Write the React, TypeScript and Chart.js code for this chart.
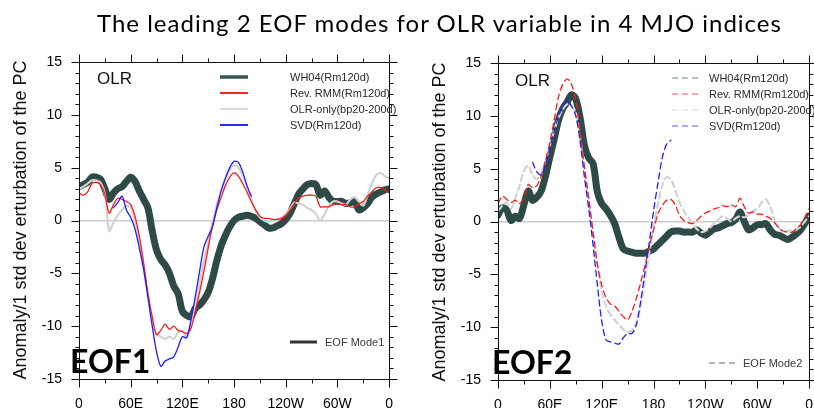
import React, { useEffect, useRef } from "react";
import { Chart, registerables } from "chart.js";

Chart.register(...registerables);

// ---------------- data ----------------
const LON = [
  0, 5, 10, 15, 20, 25, 30, 35, 40, 45, 50, 55, 60, 65, 70, 75, 80, 85, 90, 95,
  100, 105, 110, 115, 120, 125, 130, 135, 140, 145, 150, 155, 160, 165, 170, 175,
  180, 185, 190, 195, 200, 205, 210, 215, 220, 225, 230, 235, 240, 245, 250, 255,
  260, 265, 270, 275, 280, 285, 290, 295, 300, 305, 310, 315, 320, 325, 330, 335,
  340, 345, 350, 355, 360,
];

const X_TICK_LABELS = ["0", "60E", "120E", "180", "120W", "60W", "0"];
const SERIES_NAMES = ["WH04(Rm120d)", "Rev. RMM(Rm120d)", "OLR-only(bp20-200d)", "SVD(Rm120d)"];
const TITLE = "The leading 2 EOF modes for OLR variable in 4 MJO indices";
const Y_TITLE = "Anomaly/1 std dev erturbation of the PC";

// EOF1
const EOF1_WH04 = [
  3.2, 3.4, 3.6, 4.1, 4.1, 3.9, 3.0, 2.0, 2.6, 3.0, 3.2, 3.7, 4.1, 3.7, 2.8, 2.0,
  1.2, -1.0, -2.8, -3.7, -4.2, -5.0, -6.2, -6.9, -8.6, -9.0, -9.1, -8.3, -8.0, -7.5,
  -6.8, -5.5, -3.8, -2.4, -1.4, -0.6, 0.0, 0.3, 0.4, 0.5, 0.4, 0.2, -0.1, -0.4,
  -0.7, -0.7, -0.5, -0.3, 0.1, 0.7, 1.6, 2.5, 3.0, 3.4, 3.5, 3.4, 2.4, 2.8, 2.2,
  1.8, 1.8, 1.8, 1.6, 1.7, 1.8, 1.0, 1.2, 1.6, 2.2, 2.5, 2.7, 2.9, 3.0,
];
const EOF1_RMM = [
  2.6, 2.4, 2.7, 3.5, 3.6, 3.4, 2.5, 0.7, 1.5, 2.1, 2.0, 1.8, 1.5, 0.4, -1.5, -4.0,
  -6.9, -9.1, -10.8, -10.4, -9.8, -10.3, -10.0, -10.4, -10.5, -10.7, -10.2, -8.6,
  -6.8, -4.8, -2.6, -0.5, 1.0, 2.2, 3.3, 4.1, 4.5, 4.2, 3.5, 2.7, 1.8, 1.0, 0.4,
  0.2, 0.2, 0.1, 0.1, 0.2, 0.5, 1.0, 1.6, 2.1, 2.3, 2.4, 2.4, 2.3, 1.3, 1.3, 1.3,
  1.5, 1.6, 1.5, 1.5, 1.3, 1.3, 1.6, 1.8, 2.3, 2.7, 3.1, 3.1, 2.9, 2.6,
];
const EOF1_OLR = [
  3.0, 3.2, 3.5, 3.8, 3.8, 3.6, 2.5, -1.0, -0.2, 0.5, 1.0, 1.4, 1.2, 0.0, -1.8,
  -4.5, -7.2, -9.6, -10.8, -11.0, -11.2, -11.0, -11.2, -10.6, -10.5, -11.0, -9.8,
  -8.0, -6.0, -3.8, -2.0, -0.2, 1.5, 2.8, 4.0, 4.8, 5.2, 5.0, 4.3, 3.2, 2.0, 1.0,
  0.3, 0.0, -0.1, 0.0, 0.1, 0.3, 0.6, 1.1, 1.7, 1.6, 1.5, 1.2, 1.0, 0.6, 0.0, 0.6,
  1.4, 1.8, 1.8, 1.6, 1.5, 2.0, 2.2, 1.8, 1.4, 2.4, 3.5, 4.3, 4.5, 4.2, 4.0,
];
const EOF1_SVD = [
  null, null, null, null, null, null, null, null, 1.2, 1.7, 2.3, 1.0, 0.3, -0.8,
  -2.6, -4.6, -7.2, -10.0, -12.4, -13.8, -13.3, -13.1, -12.9, -12.0, -11.0, -11.1,
  -9.4, -7.2, -4.8, -2.5, -1.5, -0.6, 1.2, 2.8, 4.0, 5.0, 5.6, 5.5, 4.6, 3.3, 2.3,
  null, null, null, null, null, null, null, null, null, null, null, null, null,
  null, null, null, null, null, null, null, null, null, null, null, null, null,
  null, null, null, null, null, null,
];

// EOF2
const EOF2_WH04 = [
  0.6, 1.3, 1.1, 0.1, 0.5, 0.3, 1.6, 2.9, 2.0, 2.3, 2.9, 4.3, 6.1, 7.8, 9.6, 10.7,
  11.3, 12.0, 11.6, 9.8, 7.2, 6.0, 5.5, 2.8, 1.7, 1.2, 0.6, -0.2, -1.5, -2.6, -2.8,
  -2.9, -3.0, -3.0, -3.0, -2.8, -2.6, -2.2, -1.8, -1.4, -1.0, -0.9, -0.9, -1.0,
  -1.0, -1.0, -0.8, -1.1, -1.3, -1.0, -0.7, -0.6, -0.4, -0.2, -0.1, 0.2, 0.9, 0.0,
  -0.8, -0.6, -0.3, -0.3, -0.2, -0.8, -1.2, -1.3, -1.5, -1.7, -1.5, -1.2, -0.8,
  -0.2, 0.5,
];
const EOF2_RMM = [
  1.7, 2.4, 2.1, 1.8, 2.0, 1.7, 2.2, 3.5, 3.2, 3.4, 4.3, 5.8, 7.5, 9.6, 11.8, 13.0,
  13.5, 13.0, 11.5, 8.5, 5.2, 2.2, -1.0, -4.0, -6.0, -7.2, -7.8, -8.0, -8.5, -9.0,
  -9.3, -8.5, -7.3, -5.8, -4.2, -2.4, -0.8, 0.7, 1.5, 2.0, 2.1, 1.6, 0.6, 0.1,
  -0.1, -0.2, 0.1, 0.5, 0.8, 1.0, 1.2, 1.3, 1.5, 1.4, 1.6, 1.4, 2.2, 1.4, 0.8, 0.9,
  0.7, 0.7, 0.5, 0.3, -0.1, -0.6, -0.9, -1.0, -1.0, -0.7, -0.3, 0.4, 1.2,
];
const EOF2_OLR = [
  1.0, 1.5, 1.8, 1.2, 2.2, 3.4, 4.8, 5.3, 4.4, 4.0, 4.6, 5.8, 7.2, 8.6, 9.8, 10.6,
  11.1, 11.0, 10.3, 8.0, 5.0, 2.0, -1.2, -4.2, -6.6, -8.0, -8.8, -9.3, -9.8,
  -10.2, -10.5, -10.3, -9.6, -8.0, -5.6, -3.0, -0.5, 1.6, 3.4, 4.2, 4.0, 3.0, 1.8,
  1.0, 0.4, -0.2, -0.7, -1.0, -0.9, -0.6, -0.2, 0.2, 0.5, 0.3, 0.0, 0.3, 0.5, 0.4,
  0.6, 1.0, 1.2, 1.8, 2.1, 1.4, 0.2, -0.6, -1.0, -0.9, -0.8, -0.8, -0.5, 0.0, 0.5,
];
const EOF2_SVD = [
  null, null, null, null, null, null, null, null, 5.6, 4.7, 4.4, 5.4, 7.0, 8.5,
  9.9, 10.9, 11.5, 10.9, 10.0, 7.6, 4.2, 1.2, -2.2, -6.0, -9.4, -11.2, -11.4,
  -11.5, -11.6, -11.0, -10.6, -10.6, -9.8, -7.6, -4.8, -2.0, 1.0, 3.6, 6.0, 7.3,
  7.7, null, null, null, null, null, null, null, null, null, null, null, null,
  null, null, null, null, null, null, null, null, null, null, null, null, null,
  null, null, null, null, null, null, null,
];

// ---------------- styles ----------------
const WH04_COLOR = "#2e4a46";
const RMM_COLOR = "#ff1a1a";
const OLR_COLOR = "#d2d2d2";
const SVD_COLOR = "#1f1fff";
const SANS = "'Liberation Sans', Arial, Helvetica, sans-serif";

type PanelSpec = {
  canvasLeft: number;
  canvasW: number;
  canvasH: number;
  plotLeft: number;
  plotRight: number;
  plotTop: number;
  plotBottom: number;
  series: (number | null)[][];
  dashed: boolean;
  legendColors: string[];
  legendWidths: number[];
  legendDash: number[];
  legendX1: number;
  legendX2: number;
  legendTextX: number;
  legendRows: number[];
  modeText: string;
  modeColor: string;
  modeWidth: number;
  modeDash: number[];
  modeX1: number;
  modeX2: number;
  modeTextX: number;
  modeY: number;
  eofText: string;
  eofX: number;
  eofY: number;
  olrX: number;
  olrY: number;
  yTitleX: number;
  yTitleCY: number;
};

const LEFT: PanelSpec = {
  canvasLeft: 0,
  canvasW: 410,
  canvasH: 440,
  plotLeft: 79,
  plotRight: 397,
  plotTop: 62,
  plotBottom: 379,
  series: [EOF1_WH04, EOF1_RMM, EOF1_OLR, EOF1_SVD],
  dashed: false,
  legendColors: ["#3a5652", "#ff2020", "#dadada", "#2a2aff"],
  legendWidths: [3.5, 2, 2, 2],
  legendDash: [],
  legendX1: 220,
  legendX2: 248,
  legendTextX: 290,
  legendRows: [77, 93, 109, 125],
  modeText: "EOF Mode1",
  modeColor: "#333333",
  modeWidth: 3,
  modeDash: [],
  modeX1: 290,
  modeX2: 317,
  modeTextX: 325,
  modeY: 342,
  eofText: "EOF1",
  eofX: 70,
  eofY: 373,
  olrX: 97,
  olrY: 84,
  yTitleX: 26,
  yTitleCY: 220,
};

const RIGHT: PanelSpec = {
  canvasLeft: 410,
  canvasW: 420,
  canvasH: 440,
  plotLeft: 88,
  plotRight: 406,
  plotTop: 63,
  plotBottom: 380,
  series: [EOF2_WH04, EOF2_RMM, EOF2_OLR, EOF2_SVD],
  dashed: true,
  legendColors: ["#9fb3af", "#ff8f8f", "#e6e6e6", "#9090ff"],
  legendWidths: [1.5, 1.5, 1.5, 1.5],
  legendDash: [6, 4],
  legendX1: 262,
  legendX2: 290,
  legendTextX: 299,
  legendRows: [78, 94, 110, 126],
  modeText: "EOF Mode2",
  modeColor: "#9a9a9a",
  modeWidth: 1.5,
  modeDash: [6, 4],
  modeX1: 299,
  modeX2: 325,
  modeTextX: 333,
  modeY: 363,
  eofText: "EOF2",
  eofX: 82,
  eofY: 374,
  olrX: 105,
  olrY: 86,
  yTitleX: 35,
  yTitleCY: 222,
};

function makeDecor(spec: PanelSpec) {
  return {
    id: "decor",
    afterDatasetsDraw(chart: any) {
      const { ctx, chartArea: a } = chart;
      const xs = chart.scales.x;
      const ys = chart.scales.y;
      ctx.save();
      // frame + ticks (outward on all four sides)
      ctx.strokeStyle = "#111";
      ctx.lineWidth = 1;
      ctx.setLineDash([]);
      ctx.beginPath();
      const L = Math.round(a.left) + 0.5;
      const R = Math.round(a.right) + 0.5;
      const T = Math.round(a.top) + 0.5;
      const B = Math.round(a.bottom) + 0.5;
      ctx.rect(L, T, R - L, B - T);
      for (let v = xs.min; v <= xs.max; v += 30) {
        const px = Math.round(xs.getPixelForValue(v)) + 0.5;
        const len = v % 60 === 0 ? 8 : 4;
        ctx.moveTo(px, B);
        ctx.lineTo(px, B + len);
        ctx.moveTo(px, T);
        ctx.lineTo(px, T - len);
      }
      for (let v = ys.min; v <= ys.max; v += 1) {
        const py = Math.round(ys.getPixelForValue(v)) + 0.5;
        const len = v % 5 === 0 ? 8 : 4;
        ctx.moveTo(L, py);
        ctx.lineTo(L - len, py);
        ctx.moveTo(R, py);
        ctx.lineTo(R + len, py);
      }
      ctx.stroke();

      // legend
      ctx.font = `11px ${SANS}`;
      ctx.textBaseline = "middle";
      ctx.textAlign = "left";
      chart.data.datasets.forEach((ds: any, i: number) => {
        const y = spec.legendRows[i];
        ctx.beginPath();
        ctx.strokeStyle = spec.legendColors[i];
        ctx.lineWidth = spec.legendWidths[i];
        ctx.setLineDash(spec.legendDash);
        ctx.moveTo(spec.legendX1, y);
        ctx.lineTo(spec.legendX2, y);
        ctx.stroke();
        ctx.fillStyle = "#2a2a2a";
        ctx.fillText(ds.label, spec.legendTextX, y + 0.5);
      });

      // mode legend
      ctx.beginPath();
      ctx.strokeStyle = spec.modeColor;
      ctx.lineWidth = spec.modeWidth;
      ctx.setLineDash(spec.modeDash);
      ctx.moveTo(spec.modeX1, spec.modeY);
      ctx.lineTo(spec.modeX2, spec.modeY);
      ctx.stroke();
      ctx.setLineDash([]);
      ctx.fillStyle = "#3a3a3a";
      ctx.fillText(spec.modeText, spec.modeTextX, spec.modeY + 0.5);

      // OLR label
      ctx.font = `17px ${SANS}`;
      ctx.textBaseline = "alphabetic";
      ctx.fillStyle = "#111";
      ctx.fillText("OLR", spec.olrX, spec.olrY);

      // EOF label
      ctx.font = `bold 32px Lato, 'Open Sans', sans-serif`;
      ctx.fillStyle = "#000";
      ctx.fillText(spec.eofText, spec.eofX, spec.eofY);

      // y-axis title
      ctx.save();
      ctx.translate(spec.yTitleX, spec.yTitleCY);
      ctx.rotate(-Math.PI / 2);
      ctx.font = `18px ${SANS}`;
      ctx.textAlign = "center";
      ctx.textBaseline = "alphabetic";
      ctx.fillStyle = "#111";
      ctx.fillText(Y_TITLE, 0, 0);
      ctx.restore();

      ctx.restore();
    },
  };
}

function buildConfig(spec: PanelSpec): any {
  const [wh, rmm, olr, svd] = spec.series;
  const pts = (arr: (number | null)[]) => LON.map((x, i) => ({ x, y: arr[i] }));
  const dash = spec.dashed ? [6, 4] : [];
  return {
    type: "line",
    data: {
      datasets: [
        {
          label: SERIES_NAMES[0],
          data: pts(wh),
          borderColor: WH04_COLOR,
          borderWidth: 7,
          order: 4,
        },
        {
          label: SERIES_NAMES[1],
          data: pts(rmm),
          borderColor: RMM_COLOR,
          borderWidth: 1.3,
          borderDash: dash,
          order: 2,
        },
        {
          label: SERIES_NAMES[2],
          data: pts(olr),
          borderColor: OLR_COLOR,
          borderWidth: 2.2,
          borderDash: dash,
          order: 3,
        },
        {
          label: SERIES_NAMES[3],
          data: pts(svd),
          borderColor: SVD_COLOR,
          borderWidth: 1.3,
          borderDash: dash,
          order: 1,
        },
      ],
    },
    options: {
      animation: false,
      responsive: false,
      events: [],
      layout: {
        padding: {
          left: 0,
          top: spec.plotTop,
          right: spec.canvasW - spec.plotRight,
          bottom: 0,
        },
      },
      elements: {
        point: { radius: 0 },
        line: { tension: 0.3, borderJoinStyle: "round", borderCapStyle: "round", fill: false },
      },
      plugins: {
        legend: { display: false },
        tooltip: { enabled: false },
        title: { display: false },
      },
      scales: {
        x: {
          type: "linear",
          min: 0,
          max: 360,
          afterFit: (s: any) => {
            s.height = spec.canvasH - spec.plotBottom;
          },
          ticks: {
            stepSize: 60,
            padding: 17,
            maxRotation: 0,
            color: "#000",
            font: { family: SANS, size: 14 },
            callback: (v: any) => X_TICK_LABELS[Math.round(Number(v) / 60)],
          },
          grid: { display: false, drawTicks: false },
          border: { display: false },
        },
        y: {
          type: "linear",
          min: -15,
          max: 15,
          afterFit: (s: any) => {
            s.width = spec.plotLeft;
          },
          ticks: {
            stepSize: 5,
            padding: 17,
            color: "#000",
            font: { family: SANS, size: 14 },
          },
          grid: {
            drawTicks: false,
            lineWidth: 1.5,
            color: (c: any) => (c.tick && c.tick.value === 0 ? "#cccccc" : "rgba(0,0,0,0)"),
          },
          border: { display: false },
        },
      },
    },
    plugins: [makeDecor(spec)],
  };
}

function Panel({ spec }: { spec: PanelSpec }) {
  const ref = useRef<HTMLCanvasElement | null>(null);
  useEffect(() => {
    if (!ref.current) return;
    const chart = new Chart(ref.current, buildConfig(spec));
    return () => chart.destroy();
  }, [spec]);
  return (
    <canvas
      ref={ref}
      width={spec.canvasW}
      height={spec.canvasH}
      style={{
        position: "absolute",
        left: spec.canvasLeft,
        top: 0,
        width: spec.canvasW,
        height: spec.canvasH,
      }}
    />
  );
}

export default function App() {
  return (
    <div
      style={{
        position: "absolute",
        left: 0,
        top: 0,
        width: 814,
        height: 408,
        overflow: "hidden",
        background: "#fff",
      }}
    >
      <Panel spec={LEFT} />
      <Panel spec={RIGHT} />
      <div
        style={{
          position: "absolute",
          left: 97,
          top: 7,
          whiteSpace: "nowrap",
          fontFamily: "Lato, 'Open Sans', sans-serif",
          fontSize: 24,
          letterSpacing: "1px",
          lineHeight: "32px",
          color: "#000",
        }}
      >
        {TITLE}
      </div>
    </div>
  );
}
